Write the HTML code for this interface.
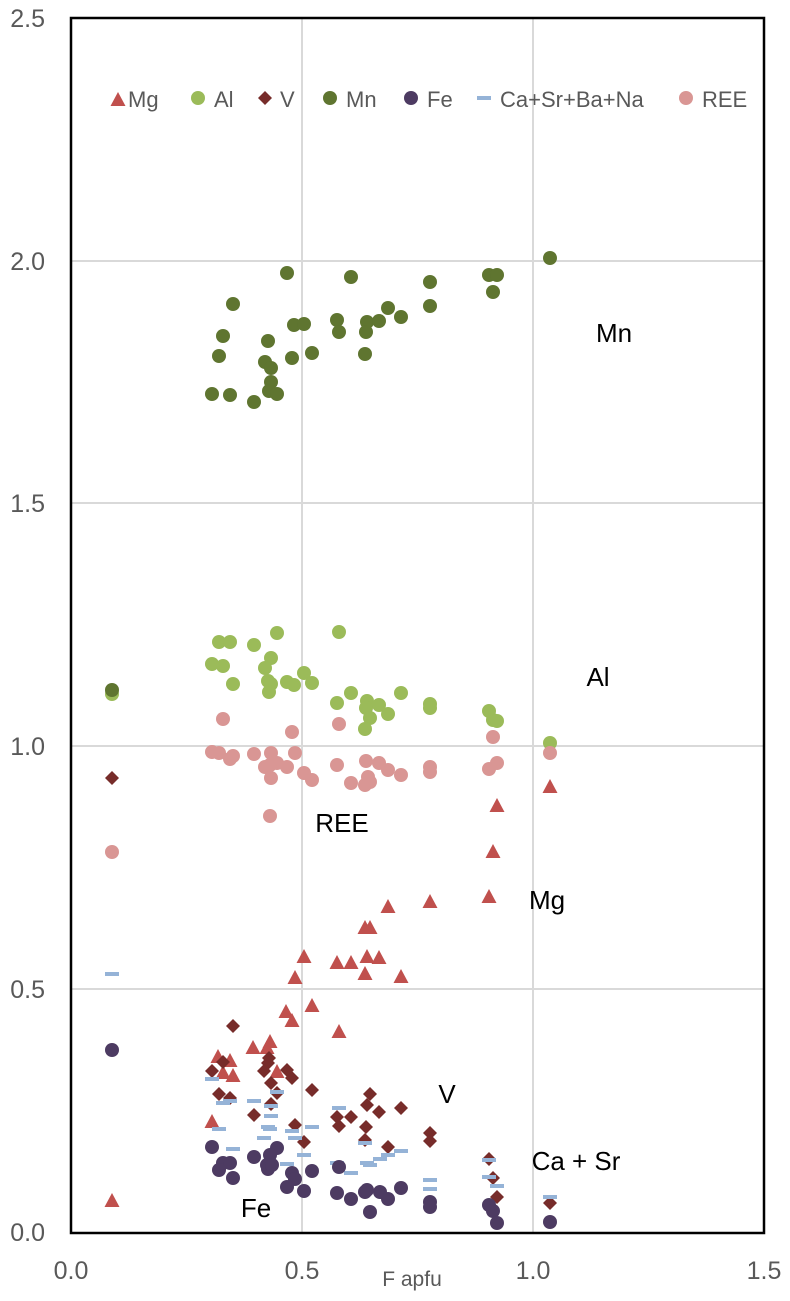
<!DOCTYPE html>
<html><head><meta charset="utf-8"><style>
html,body{margin:0;padding:0;background:#fff;}
svg{display:block;font-family:"Liberation Sans",sans-serif;}
</style></head><body>
<svg width="790" height="1301" viewBox="0 0 790 1301" xmlns="http://www.w3.org/2000/svg">
<defs>
<polygon id="tri" points="0,-8 7.5,6 -7.5,6" fill="#C0504D"/>
<polygon id="dia" points="0,-7 7,0 0,7 -7,0" fill="#772C2A"/>
<circle id="al" r="7" fill="#9BBB59"/>
<circle id="mn" r="7" fill="#5F7530"/>
<circle id="fe" r="7" fill="#4D3B62"/>
<circle id="ree" r="7" fill="#D99694"/>
<rect id="ca" x="-7" y="-2" width="14" height="4" fill="#95B3D7"/>
</defs>
<g stroke="#d9d9d9" stroke-width="2">
<line x1="71" y1="261" x2="764" y2="261"/>
<line x1="71" y1="503" x2="764" y2="503"/>
<line x1="71" y1="746" x2="764" y2="746"/>
<line x1="71" y1="989" x2="764" y2="989"/>
<line x1="302" y1="18" x2="302" y2="1233"/>
<line x1="533" y1="18" x2="533" y2="1233"/>
</g>
<rect x="71" y="18" width="693" height="1215" fill="none" stroke="#000" stroke-width="2.5"/>
<g fill="#595959" font-size="25" text-anchor="end">
<text x="45" y="27">2.5</text>
<text x="45" y="270">2.0</text>
<text x="45" y="512">1.5</text>
<text x="45" y="755">1.0</text>
<text x="45" y="998">0.5</text>
<text x="45" y="1241">0.0</text>
</g>
<g fill="#595959" font-size="25" text-anchor="middle">
<text x="71" y="1279">0.0</text>
<text x="302" y="1279">0.5</text>
<text x="533" y="1279">1.0</text>
<text x="764" y="1279">1.5</text>
<text x="412" y="1286" font-size="21">F apfu</text>
</g>
<g font-size="22" fill="#595959">
<use href="#tri" x="118" y="100"/><text x="128" y="107">Mg</text>
<use href="#al" x="198" y="98"/><text x="214" y="107">Al</text>
<use href="#dia" x="265" y="98"/><text x="280" y="107">V</text>
<use href="#mn" x="330" y="98"/><text x="346" y="107">Mn</text>
<use href="#fe" x="411" y="98"/><text x="427" y="107">Fe</text>
<use href="#ca" x="484" y="98"/><text x="500" y="107">Ca+Sr+Ba+Na</text>
<use href="#ree" x="686" y="98"/><text x="702" y="107">REE</text>
</g>
<g>
<use href="#mn" x="287" y="273"/><use href="#mn" x="351" y="277"/><use href="#mn" x="430" y="282"/>
<use href="#mn" x="489" y="275"/><use href="#mn" x="497" y="275"/><use href="#mn" x="493" y="292"/>
<use href="#mn" x="550" y="258"/><use href="#mn" x="233" y="304"/><use href="#mn" x="430" y="306"/>
<use href="#mn" x="388" y="308"/><use href="#mn" x="401" y="317"/><use href="#mn" x="294" y="325"/>
<use href="#mn" x="304" y="324"/><use href="#mn" x="337" y="320"/><use href="#mn" x="339" y="332"/>
<use href="#mn" x="367" y="322"/><use href="#mn" x="379" y="321"/><use href="#mn" x="366" y="332"/>
<use href="#mn" x="223" y="336"/><use href="#mn" x="268" y="341"/><use href="#mn" x="219" y="356"/>
<use href="#mn" x="292" y="358"/><use href="#mn" x="312" y="353"/><use href="#mn" x="365" y="354"/>
<use href="#mn" x="265" y="362"/><use href="#mn" x="271" y="368"/><use href="#mn" x="271" y="382"/>
<use href="#mn" x="269" y="391"/><use href="#mn" x="277" y="394"/><use href="#mn" x="212" y="394"/>
<use href="#mn" x="230" y="395"/><use href="#mn" x="254" y="402"/>
</g>
<g>
<use href="#al" x="112" y="694"/>
<use href="#al" x="219" y="642"/><use href="#al" x="230" y="642"/><use href="#al" x="277" y="633"/><use href="#al" x="339" y="632"/>
<use href="#al" x="254" y="645"/><use href="#al" x="212" y="664"/><use href="#al" x="223" y="666"/>
<use href="#al" x="271" y="658"/><use href="#al" x="265" y="668"/><use href="#al" x="233" y="684"/>
<use href="#al" x="268" y="681"/><use href="#al" x="271" y="684"/><use href="#al" x="269" y="692"/>
<use href="#al" x="287" y="682"/><use href="#al" x="294" y="685"/><use href="#al" x="304" y="673"/><use href="#al" x="312" y="683"/>
<use href="#al" x="351" y="693"/><use href="#al" x="337" y="703"/><use href="#al" x="367" y="701"/><use href="#al" x="366" y="708"/>
<use href="#al" x="379" y="705"/><use href="#al" x="388" y="714"/><use href="#al" x="370" y="718"/><use href="#al" x="365" y="729"/>
<use href="#al" x="401" y="693"/><use href="#al" x="430" y="704"/><use href="#al" x="430" y="708"/>
<use href="#al" x="489" y="711"/><use href="#al" x="493" y="720"/><use href="#al" x="497" y="721"/><use href="#al" x="550" y="743"/>
</g>
<use href="#mn" x="112" y="690"/>
<g>
<use href="#ree" x="112" y="852"/>
<use href="#ree" x="223" y="719"/><use href="#ree" x="292" y="732"/><use href="#ree" x="339" y="724"/><use href="#ree" x="493" y="737"/>
<use href="#ree" x="212" y="752"/><use href="#ree" x="219" y="753"/><use href="#ree" x="230" y="759"/><use href="#ree" x="233" y="756"/>
<use href="#ree" x="254" y="754"/><use href="#ree" x="271" y="753"/><use href="#ree" x="265" y="767"/><use href="#ree" x="277" y="763"/>
<use href="#ree" x="270" y="765"/><use href="#ree" x="287" y="767"/><use href="#ree" x="271" y="778"/><use href="#ree" x="295" y="753"/>
<use href="#ree" x="304" y="773"/><use href="#ree" x="312" y="780"/><use href="#ree" x="337" y="765"/><use href="#ree" x="351" y="783"/>
<use href="#ree" x="366" y="761"/><use href="#ree" x="368" y="777"/><use href="#ree" x="370" y="782"/><use href="#ree" x="365" y="785"/>
<use href="#ree" x="379" y="763"/><use href="#ree" x="388" y="770"/><use href="#ree" x="401" y="775"/>
<use href="#ree" x="430" y="767"/><use href="#ree" x="430" y="772"/><use href="#ree" x="489" y="769"/><use href="#ree" x="497" y="763"/>
<use href="#ree" x="550" y="753"/><use href="#ree" x="270" y="816"/>
</g>
<g>
<use href="#tri" x="550" y="787"/><use href="#tri" x="497" y="806"/>
<use href="#tri" x="493" y="852"/><use href="#tri" x="489" y="897"/><use href="#tri" x="430" y="902"/>
<use href="#tri" x="388" y="907"/><use href="#tri" x="365" y="928"/><use href="#tri" x="370" y="928"/>
<use href="#tri" x="304" y="957"/><use href="#tri" x="337" y="963"/><use href="#tri" x="351" y="963"/>
<use href="#tri" x="367" y="957"/><use href="#tri" x="379" y="958"/><use href="#tri" x="295" y="978"/>
<use href="#tri" x="365" y="974"/><use href="#tri" x="401" y="977"/><use href="#tri" x="286" y="1012"/>
<use href="#tri" x="312" y="1006"/><use href="#tri" x="292" y="1021"/><use href="#tri" x="339" y="1032"/>
<use href="#tri" x="270" y="1042"/><use href="#tri" x="253" y="1048"/><use href="#tri" x="267" y="1048"/>
<use href="#tri" x="218" y="1057"/><use href="#tri" x="230" y="1061"/><use href="#tri" x="223" y="1073"/>
<use href="#tri" x="233" y="1076"/><use href="#tri" x="277" y="1072"/><use href="#tri" x="212" y="1122"/>
<use href="#tri" x="112" y="1201"/>
</g>
<g>
<use href="#dia" x="112" y="778"/>
<use href="#dia" x="233" y="1026"/><use href="#dia" x="223" y="1062"/><use href="#dia" x="212" y="1071"/>
<use href="#dia" x="269" y="1058"/><use href="#dia" x="268" y="1063"/><use href="#dia" x="264" y="1071"/>
<use href="#dia" x="287" y="1070"/><use href="#dia" x="292" y="1078"/><use href="#dia" x="271" y="1083"/>
<use href="#dia" x="312" y="1090"/><use href="#dia" x="219" y="1094"/><use href="#dia" x="230" y="1098"/>
<use href="#dia" x="277" y="1093"/><use href="#dia" x="271" y="1104"/><use href="#dia" x="254" y="1115"/>
<use href="#dia" x="295" y="1125"/><use href="#dia" x="304" y="1142"/><use href="#dia" x="370" y="1094"/>
<use href="#dia" x="367" y="1105"/><use href="#dia" x="379" y="1112"/><use href="#dia" x="401" y="1108"/>
<use href="#dia" x="337" y="1117"/><use href="#dia" x="351" y="1117"/><use href="#dia" x="339" y="1126"/>
<use href="#dia" x="366" y="1127"/><use href="#dia" x="365" y="1140"/><use href="#dia" x="388" y="1147"/>
<use href="#dia" x="430" y="1133"/><use href="#dia" x="430" y="1141"/><use href="#dia" x="489" y="1159"/>
<use href="#dia" x="493" y="1178"/><use href="#dia" x="497" y="1197"/><use href="#dia" x="550" y="1203"/>
</g>
<g>
<use href="#ca" x="112" y="974"/>
<use href="#ca" x="212" y="1079"/><use href="#ca" x="223" y="1103"/><use href="#ca" x="230" y="1101"/>
<use href="#ca" x="254" y="1101"/><use href="#ca" x="277" y="1092"/><use href="#ca" x="271" y="1106"/>
<use href="#ca" x="271" y="1116"/><use href="#ca" x="219" y="1129"/><use href="#ca" x="233" y="1149"/>
<use href="#ca" x="268" y="1127"/><use href="#ca" x="270" y="1129"/><use href="#ca" x="264" y="1138"/>
<use href="#ca" x="292" y="1131"/><use href="#ca" x="295" y="1138"/><use href="#ca" x="312" y="1127"/>
<use href="#ca" x="304" y="1155"/><use href="#ca" x="287" y="1164"/><use href="#ca" x="339" y="1108"/>
<use href="#ca" x="337" y="1163"/><use href="#ca" x="351" y="1173"/><use href="#ca" x="365" y="1143"/>
<use href="#ca" x="367" y="1163"/><use href="#ca" x="370" y="1165"/><use href="#ca" x="380" y="1159"/>
<use href="#ca" x="388" y="1155"/><use href="#ca" x="401" y="1151"/><use href="#ca" x="430" y="1180"/>
<use href="#ca" x="430" y="1189"/><use href="#ca" x="489" y="1160"/><use href="#ca" x="489" y="1177"/>
<use href="#ca" x="497" y="1186"/><use href="#ca" x="550" y="1197"/>
</g>
<g>
<use href="#fe" x="112" y="1050"/>
<use href="#fe" x="212" y="1147"/><use href="#fe" x="223" y="1163"/><use href="#fe" x="230" y="1163"/>
<use href="#fe" x="219" y="1170"/><use href="#fe" x="233" y="1178"/><use href="#fe" x="254" y="1157"/>
<use href="#fe" x="277" y="1148"/><use href="#fe" x="270" y="1155"/><use href="#fe" x="267" y="1165"/>
<use href="#fe" x="268" y="1169"/><use href="#fe" x="272" y="1165"/><use href="#fe" x="292" y="1173"/>
<use href="#fe" x="295" y="1179"/><use href="#fe" x="287" y="1187"/><use href="#fe" x="304" y="1191"/>
<use href="#fe" x="312" y="1171"/><use href="#fe" x="339" y="1167"/><use href="#fe" x="337" y="1193"/>
<use href="#fe" x="351" y="1199"/><use href="#fe" x="365" y="1192"/><use href="#fe" x="367" y="1190"/>
<use href="#fe" x="370" y="1212"/><use href="#fe" x="380" y="1192"/><use href="#fe" x="388" y="1199"/>
<use href="#fe" x="401" y="1188"/><use href="#fe" x="430" y="1202"/><use href="#fe" x="430" y="1207"/>
<use href="#fe" x="489" y="1205"/><use href="#fe" x="493" y="1211"/><use href="#fe" x="497" y="1223"/>
<use href="#fe" x="550" y="1222"/>
</g>
<g font-size="26" fill="#000" text-anchor="middle">
<text x="614" y="342">Mn</text>
<text x="598" y="686">Al</text>
<text x="342" y="832">REE</text>
<text x="547" y="909">Mg</text>
<text x="447" y="1103">V</text>
<text x="576" y="1170">Ca + Sr</text>
<text x="256" y="1217">Fe</text>
</g>
</svg>
</body></html>
